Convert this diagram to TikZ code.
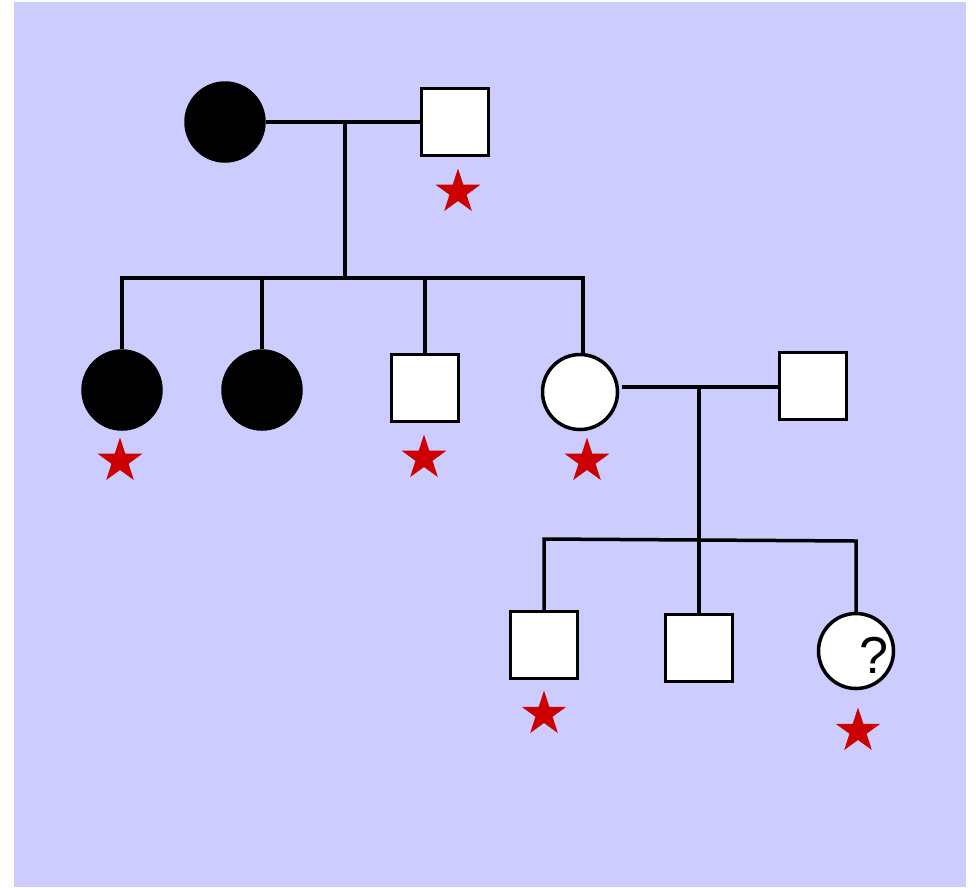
\documentclass[tikz,border=0pt]{standalone}
\usepackage{fontspec}
\setmainfont{Liberation Sans}
\usetikzlibrary{shapes.geometric}
\definecolor{bgblue}{HTML}{CCCCFF}
\definecolor{starred}{HTML}{CC0000}
\begin{document}
\begin{tikzpicture}[x=1pt,y=-1pt,
  link/.style={draw=black,line width=3.5pt},
  male/.style={draw=black,fill=white,line width=3.5pt,rectangle,minimum size=67pt,inner sep=0pt},
  female/.style={draw=black,fill=white,line width=3.5pt,circle,minimum size=75pt,inner sep=0pt},
  affected/.style={fill=black},
  mark star/.style={star,star points=5,star point ratio=2.618,fill=starred,draw=none,minimum size=47pt,inner sep=0pt}]
  \useasboundingbox (0,0) rectangle (976,887);
  \fill[bgblue] (14,2) rectangle (966,887);

  % first generation
  \node[female,affected,minimum size=78pt] (g1f) at (225,122) {};
  \node[male] (g1m) at (455,122) {};
  \coordinate (c1) at (345,122);
  \coordinate (s1) at (345,278);
  \draw[link] (g1f) -- (g1m);
  \draw[link] (c1) -- (s1);

  % second generation
  \node[female,affected,minimum size=78pt] (a) at (122,390) {};
  \node[female,affected,minimum size=78pt] (b) at (262,390) {};
  \node[male] (c) at (425,388) {};
  \node[female] (d) at (580,392) {};
  \node[male] (dm) at (813,386) {};
  \coordinate (sa) at (122,278);
  \coordinate (sb) at (262,278);
  \coordinate (sc) at (425,278);
  \coordinate (sd) at (583,278);
  \coordinate (dtop) at (583,355);
  \draw[link] (a.north) -- (sa) -- (sd) -- (dtop);
  \draw[link] (sb) -- (b.north);
  \draw[link] (sc) -- (c.north);

  % second marriage
  \draw[link] (d.east) ++(3,-5) -- (dm.west |- 0,387);
  \coordinate (c2) at (699,387);
  \coordinate (s2) at (699,540);
  \draw[link] (c2) -- (s2);

  % third generation
  \node[male] (e) at (544,645) {};
  \node[male] (f) at (699,648) {};
  \node[female] (g) at (856,651) {};
  \node[font=\fontsize{52}{52}\selectfont,inner sep=0pt] (q) at (874,655) {?};
  \coordinate (se) at (544,539);
  \coordinate (sg) at (856,541);
  \draw[link] (e.north) -- (se) -- (sg) -- (g.north);
  \draw[link] (s2) -- (f.north);

  % carrier marks
  \node[mark star] (m1) at (458,192) {};
  \node[mark star] (m2) at (120,461) {};
  \node[mark star] (m3) at (424,458) {};
  \node[mark star] (m4) at (587,461) {};
  \node[mark star] (m5) at (544,714) {};
  \node[mark star] (m6) at (858,731) {};
\end{tikzpicture}
\end{document}
